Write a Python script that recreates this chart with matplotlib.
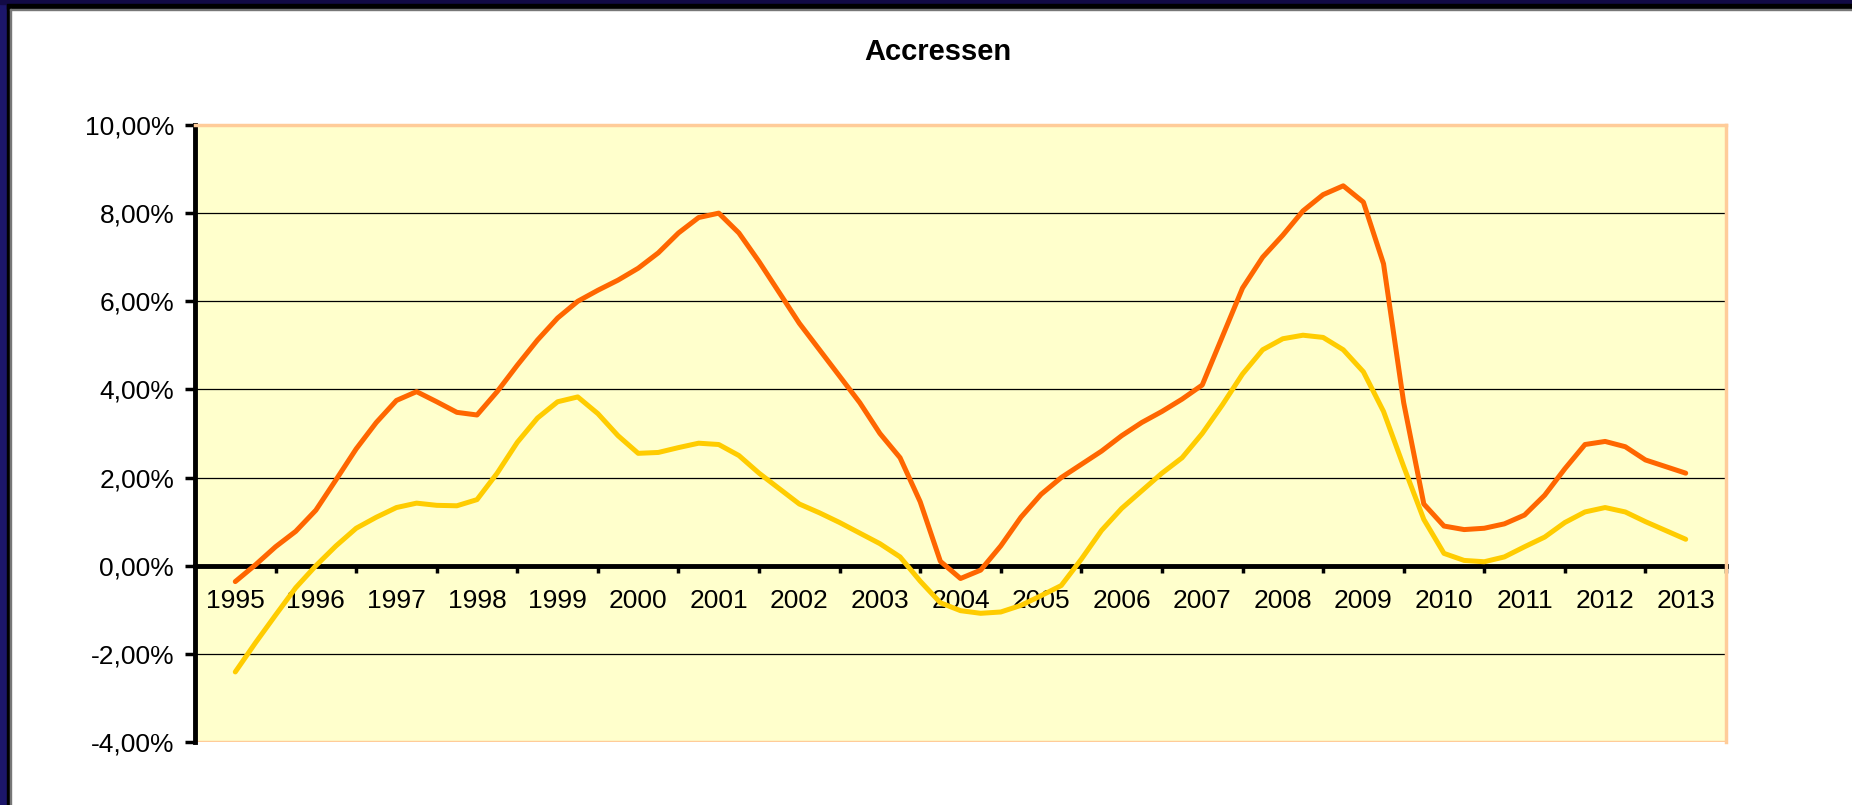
# Accressen - kwartaalcijfers 1995-2013
import matplotlib
matplotlib.use('Agg')
import matplotlib.pyplot as plt
from matplotlib.patches import Rectangle
import numpy as np

plt.rcParams['font.family'] = ['Liberation Sans', 'DejaVu Sans']

start_year = 1995
year_labels = [str(y) for y in range(1995, 2014)]
y_ticks = [-4, -2, 0, 2, 4, 6, 8, 10]

# oranje reeks (in %)
accres_a = [-0.36, 0.02, 0.43, 0.78,
            1.26, 1.95, 2.65, 3.25,
            3.75, 3.95, 3.72, 3.48,
            3.42, 3.95, 4.55, 5.12,
            5.62, 6.00, 6.25, 6.48,
            6.75, 7.10, 7.55, 7.90,
            8.00, 7.55, 6.90, 6.20,
            5.50, 4.90, 4.30, 3.70,
            3.00, 2.45, 1.45, 0.10,
            -0.29, -0.10, 0.45, 1.10,
            1.62, 2.00, 2.30, 2.60,
            2.95, 3.25, 3.50, 3.78,
            4.10, 5.20, 6.30, 7.00,
            7.50, 8.05, 8.42, 8.62,
            8.25, 6.85, 3.70, 1.40,
            0.90, 0.82, 0.85, 0.95,
            1.15, 1.60, 2.20, 2.75,
            2.82, 2.70, 2.40, 2.25,
            2.10]

# gele reeks (in %)
accres_b = [-2.41, -1.75, -1.12, -0.50,
            0.00, 0.45, 0.85, 1.10,
            1.32, 1.42, 1.37, 1.36,
            1.50, 2.10, 2.80, 3.35,
            3.72, 3.83, 3.45, 2.95,
            2.55, 2.57, 2.68, 2.78,
            2.75, 2.50, 2.10, 1.75,
            1.40, 1.20, 0.98, 0.74,
            0.50, 0.20, -0.35, -0.84,
            -1.02, -1.08, -1.05, -0.90,
            -0.68, -0.45, 0.15, 0.80,
            1.30, 1.70, 2.10, 2.45,
            3.00, 3.65, 4.35, 4.90,
            5.15, 5.23, 5.18, 4.90,
            4.40, 3.50, 2.25, 1.05,
            0.28, 0.12, 0.09, 0.20,
            0.43, 0.65, 0.98, 1.22,
            1.32, 1.22, 1.00, 0.80,
            0.60]

t = start_year + np.arange(len(accres_a)) / 4.0

fig = plt.figure(figsize=(18.52, 8.05), dpi=100, facecolor='white')
W, H = 1852, 805

# donkere rand links en boven
fig.patches.append(Rectangle((0, 0), 7 / W, 1, transform=fig.transFigure, color='#1c166a', zorder=0))
fig.patches.append(Rectangle((7 / W, 0), 3 / W, 1, transform=fig.transFigure, color='black', zorder=0))
fig.patches.append(Rectangle((0, 1 - 4 / H), 1, 4 / H, transform=fig.transFigure, color='#120a45', zorder=0))
fig.patches.append(Rectangle((7 / W, 1 - 9 / H), 1, 5 / H, transform=fig.transFigure, color='black', zorder=0))
fig.patches.append(Rectangle((10 / W, 1 - 10 / H), 1, 1 / H, transform=fig.transFigure, color='#777777', zorder=0))
fig.patches.append(Rectangle((10 / W, 0), 1 / W, 1 - 9 / H, transform=fig.transFigure, color='#777777', zorder=0))

ax = fig.add_axes([195 / W, 1 - 742 / H, (1726 - 195) / W, (742 - 125) / H])
ax.set_facecolor('#FFFFCC')

for v in [-2, 2, 4, 6, 8]:
    ax.axhline(v, color='black', lw=0.9, zorder=1)

ax.plot(t, accres_a, color='#FF6600', lw=3.6, solid_capstyle='round', solid_joinstyle='round', zorder=3)
ax.plot(t, accres_b, color='#FFCC00', lw=3.6, solid_capstyle='round', solid_joinstyle='round', zorder=3)

ax.set_xlim(1994.5, 2013.5)
ax.set_ylim(-4, 10)

# assen
ax.spines['left'].set_color('black')
ax.spines['left'].set_linewidth(3.5)
ax.spines['bottom'].set_position(('data', 0))
ax.spines['bottom'].set_color('black')
ax.spines['bottom'].set_linewidth(3.5)
ax.spines['bottom'].set_zorder(2)
for s in ['top', 'right']:
    ax.spines[s].set_color('#FFCC99')
    ax.spines[s].set_linewidth(2.5)
ax.axhline(-4, color='#FFCC99', lw=2.5, zorder=1)

ax.set_yticks(y_ticks)
ax.set_yticklabels([('%.2f%%' % v).replace('.', ',') for v in y_ticks])
ax.tick_params(axis='y', direction='out', length=7, width=2.5, pad=8, labelsize=19)

ax.set_xticks(np.arange(1995.5, 2014, 1.0))
ax.set_xticklabels([])
ax.set_xticks(np.arange(1995, 2014), minor=True)
ax.set_xticklabels(year_labels, minor=True)
ax.tick_params(axis='x', which='major', direction='out', length=5, width=2.5)
ax.tick_params(axis='x', which='minor', length=0, pad=17, labelsize=19)

fig.text(938 / W, 1 - 52 / H, 'Accressen', ha='center', va='center', fontsize=21, fontweight='bold')

fig.savefig('out.png', dpi=100, facecolor='white')
